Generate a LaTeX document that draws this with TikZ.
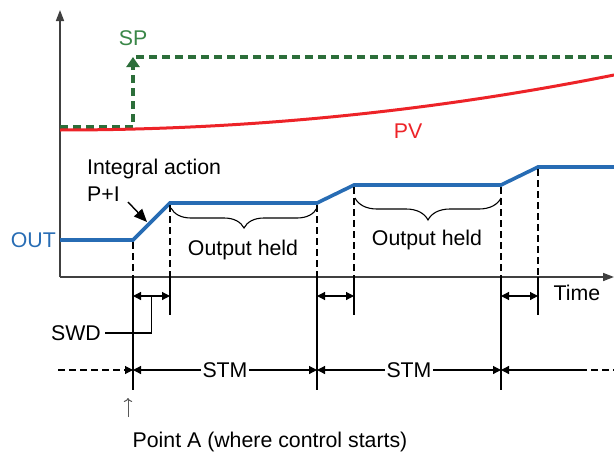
\documentclass[tikz,border=0pt]{standalone}
\usepackage{fontspec}
\setmainfont{Liberation Sans}
\usetikzlibrary{arrows.meta, positioning, calc, decorations.pathreplacing}
\definecolor{outblue}{RGB}{39,108,180}
\definecolor{pvred}{RGB}{237,35,40}
\definecolor{spgreen}{RGB}{44,110,58}
\definecolor{splabel}{RGB}{58,135,72}
\definecolor{axisgray}{RGB}{64,64,64}

\begin{document}
\begin{tikzpicture}[x=1pt, y=-1pt,
    every node/.style={font=\fontsize{21.3}{27}\selectfont, inner sep=1pt},
    axis/.style={axisgray, line width=1.6pt, -{Triangle[length=11pt, width=8pt]}},
    guide/.style={line width=1.1pt, dash pattern=on 7pt off 4pt},
    tick/.style={line width=1.3pt},
    span/.style={{Triangle[length=8pt, width=8pt]}-{Triangle[length=8pt, width=8pt]}, line width=1.2pt},
    setpoint/.style={spgreen, line width=3.6pt, dash pattern=on 8pt off 5pt},
    held/.style={decorate, decoration={brace, amplitude=#1}, line width=1.1pt}
]
\useasboundingbox (0,0) rectangle (614,455);

% axes
\coordinate (origin) at (60,277);
\draw[axis] (origin) -- (60,10);
\draw[axis] (origin) -- (614,277);
\node (time) at (577,293) {Time};

% set point and process value
\draw[setpoint, -{Triangle[length=10pt, width=13pt]}] (60,127) -- (133,127) -- (133,57);
\draw[setpoint] (136,57) -- (614,57);
\node[text=splabel] (sp) at (133,38) {SP};
\draw[pvred, line width=3pt] (60,130) .. controls (245,130) and (429,112) .. (614,75);
\node[text=pvred] (pv) at (408,131) {PV};

% output
\draw[outblue, line width=3.6pt] (60,240) -- (133,240) -- (170,203) -- (317,203)
    -- (354,185) -- (501,185) -- (538,167) -- (614,167);
\node[text=outblue, anchor=east] (out) at (57,240) {OUT};

% switching instants
\foreach \x/\y/\len [count=\i] in {133/240/390, 170/203/315, 317/203/390, 354/185/315, 501/185/390, 538/167/315} {
    \coordinate (s\i) at (\x,\y);
    \coordinate (b\i) at (\x,\len);
    \draw[guide] (\x,\y+2) -- (\x,277);
    \draw[tick] (\x,277) -- (b\i);
}

% output held
\draw[held=20pt] (317,208) -- (171,208);
\node (held1) at (243,250) {Output held};
\draw[held=22pt] (501,198) -- (355,198);
\node (held2) at (427,240) {Output held};

\node[anchor=west, align=left] (integral) at (86,180) {Integral action\\P+I};
\draw[-{Triangle[length=13pt, width=11pt]}, line width=1.4pt] (128,202) -- (147,222);

% SWD
\coordinate (swdrow) at (0,296);
\draw[span] (s1 |- swdrow) -- (s2 |- swdrow);
\draw[span] (s3 |- swdrow) -- (s4 |- swdrow);
\draw[span] (s5 |- swdrow) -- (s6 |- swdrow);
\node[anchor=east, inner sep=4pt] (swd) at (105,333) {SWD};
\draw[tick] ($(s1 |- swdrow)!0.5!(s2 |- swdrow)$) |- (swd.east);

% STM
\coordinate (stmrow) at (0,370);
\coordinate (stmin) at (58,370);
\coordinate (stmout) at (614,370);
\coordinate (stmend) at (580,370);
\draw[guide, -{Triangle[length=8pt, width=8pt]}] (stmin) -- (s1 |- stmrow);
\draw[span] (s1 |- stmrow) -- node[fill=white, inner sep=2pt] (stm1) {STM} (s3 |- stmrow);
\draw[span] (s3 |- stmrow) -- node[fill=white, inner sep=2pt] (stm2) {STM} (s5 |- stmrow);
\draw[tick, {Triangle[length=8pt, width=8pt]}-] (s5 |- stmrow) -- (stmend);
\draw[guide] (stmend) -- (stmout);

% point A
\coordinate (mark) at (128,417);
\draw[black!65, line width=1pt, -{To[length=4pt]}] (mark) -- ++(0,-19);
\node (pointa) at (270,442) {Point A (where control starts)};
\end{tikzpicture}
\end{document}
